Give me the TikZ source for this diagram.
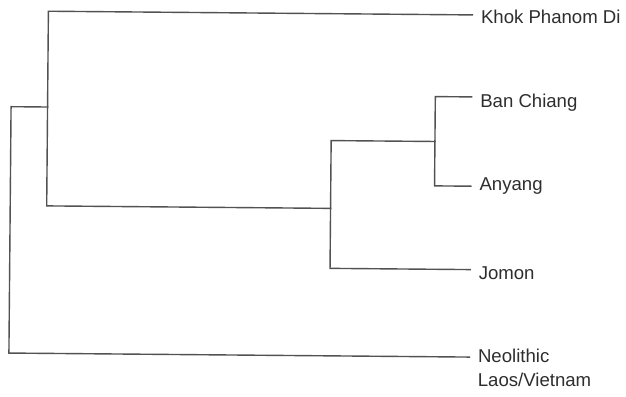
\documentclass[tikz,border=0pt]{standalone}
\usepackage{fontspec}
\setmainfont{Liberation Sans}
\begin{document}
\begin{tikzpicture}[x=1pt,y=-1pt,
  branch/.style={draw=black!68, line width=1.4pt, line cap=rect},
  leaf/.style={anchor=base west, inner sep=0pt, text=black!82, font=\fontsize{18.6}{22}\selectfont}]
\useasboundingbox[fill=white] (0,0) rectangle (626,396);
\begin{scope}[rotate=-0.5]
  % junctions
  \coordinate (root) at (12,106.6);
  \coordinate (n1)   at (48.5,106.6);
  \coordinate (n2)   at (332.4,205.5);
  \coordinate (n3)   at (436.2,137.7);
  % leaf ends
  \coordinate (eK) at (472.5,10.8);
  \coordinate (eB) at (472.5,92.8);
  \coordinate (eA) at (472.5,182.1);
  \coordinate (eJ) at (472.5,265.5);
  \coordinate (eN) at (472.5,353);
  % labels
  \node[leaf] (lK) at (481,18.9)  {Khok Phanom Di};
  \node[leaf] (lB) at (481,103.6) {Ban Chiang};
  \node[leaf] (lA) at (481,186.6) {Anyang};
  \node[leaf] (lJ) at (481,275)   {Jomon};
  \node[leaf] (lN) at (481,358.6) {Neolithic};
  \node[leaf] (lL) at (481,382.3) {Laos/Vietnam};
  % tree
  \draw[branch] (eN) -- (root |- eN) -- (root) -- (n1);
  \draw[branch] (eK) -- (n1 |- eK) -- (n1 |- n2) -- (n2);
  \draw[branch] (eJ) -- (n2 |- eJ) -- (n2 |- n3) -- (n3);
  \draw[branch] (eB) -- (n3 |- eB) -- (n3 |- eA) -- (eA);
\end{scope}
\end{tikzpicture}
\end{document}
